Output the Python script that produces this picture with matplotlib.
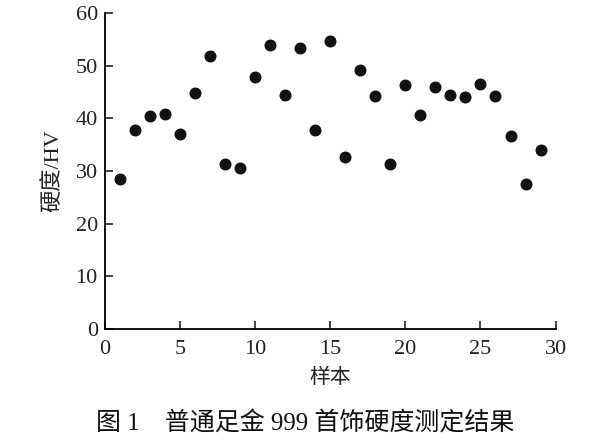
import matplotlib
matplotlib.use("Agg")
import matplotlib.pyplot as plt

samples = list(range(1, 30))
hardness = [28.5, 37.8, 40.5, 40.9, 37.1, 44.8, 51.9, 31.4, 30.5, 47.9,
            53.9, 44.5, 53.3, 37.7, 54.7, 32.7, 49.1, 44.3, 31.3, 46.4,
            40.6, 45.9, 44.5, 44.1, 46.5, 44.3, 36.6, 27.5, 34.0]
xticks = [0, 5, 10, 15, 20, 25, 30]
yticks = [0, 10, 20, 30, 40, 50, 60]

fam = ['Liberation Serif', 'Noto Sans CJK SC']
plt.rcParams['font.family'] = fam

fig = plt.figure(figsize=(6, 4.43), dpi=100)
ax = fig.add_axes([0.1745, 0.257, 0.7515, 0.714])
ax.scatter(samples, hardness, s=58, color='#111111', zorder=3)
ax.set_xlim(0, 30)
ax.set_ylim(0, 60)
ax.set_xticks(xticks)
ax.set_yticks(yticks)
for s in ['top', 'right']:
    ax.spines[s].set_visible(False)
for s in ['left', 'bottom']:
    ax.spines[s].set_linewidth(1.3)
ax.tick_params(direction='in', length=6, width=1.2, labelsize=16, colors='#222222')
ax.tick_params(axis='x', pad=8)
ax.tick_params(axis='y', pad=5)
ax.set_xlabel('样本', fontsize=15, labelpad=7, color='#222222')
ax.set_ylabel('硬度/HV', fontsize=16, labelpad=8.5, color='#222222')
fig.text(0.508, 0.045, '图 1　普通足金 999 首饰硬度测定结果', ha='center', va='center',
         fontsize=18, color='#111111')
fig.savefig('out.png', dpi=100)
